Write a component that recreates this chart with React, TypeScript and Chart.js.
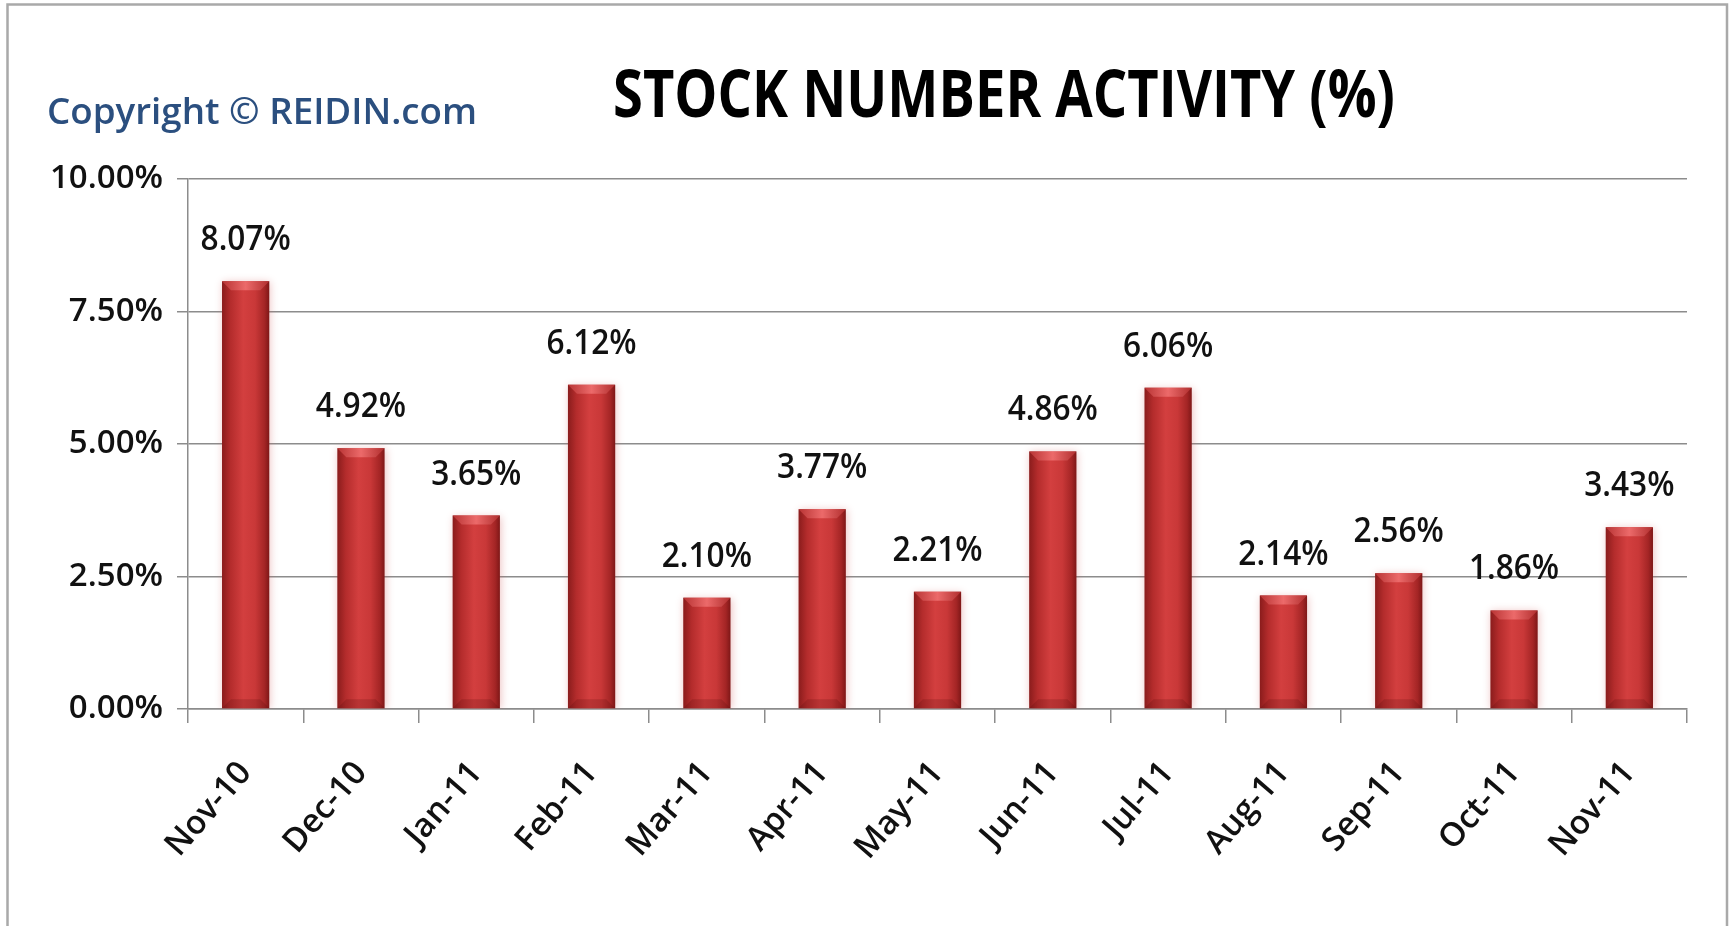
import React, { useEffect, useRef } from "react";
import { Chart, registerables } from "chart.js";

Chart.register(...registerables);

const categories = [
  "Nov-10", "Dec-10", "Jan-11", "Feb-11", "Mar-11", "Apr-11", "May-11",
  "Jun-11", "Jul-11", "Aug-11", "Sep-11", "Oct-11", "Nov-11",
];
const activityValues = [8.07, 4.92, 3.65, 6.12, 2.1, 3.77, 2.21, 4.86, 6.06, 2.14, 2.56, 1.86, 3.43];
const yTickValues = [0, 2.5, 5, 7.5, 10];
const titleText = "STOCK NUMBER ACTIVITY (%)";
const copyrightText = "Copyright © REIDIN.com";

const W = 1733;
const H = 926;
const BAR_FRACTION = 0.41;
const FONT = "'Open Sans', 'DejaVu Sans', sans-serif";

function drawFitted(
  ctx: CanvasRenderingContext2D,
  text: string,
  font: string,
  x: number,
  y: number,
  targetWidth: number,
  color: string
) {
  ctx.save();
  ctx.font = font;
  ctx.fillStyle = color;
  ctx.textAlign = "left";
  ctx.textBaseline = "alphabetic";
  const w = ctx.measureText(text).width;
  ctx.translate(x, y);
  ctx.scale(targetWidth / w, 1);
  ctx.fillText(text, 0, 0);
  ctx.restore();
}

const framePlugin = {
  id: "frame",
  beforeDraw(chart: any) {
    const ctx = chart.ctx as CanvasRenderingContext2D;
    ctx.save();
    ctx.fillStyle = "#ffffff";
    ctx.fillRect(0, 0, W, H);
    ctx.strokeStyle = "#a9a9a9";
    ctx.lineWidth = 2.5;
    ctx.beginPath();
    ctx.moveTo(7.5, H + 5);
    ctx.lineTo(7.5, 4.5);
    ctx.lineTo(1727, 4.5);
    ctx.lineTo(1727, H + 5);
    ctx.stroke();
    ctx.restore();
  },
  afterDraw(chart: any) {
    const ctx = chart.ctx as CanvasRenderingContext2D;
    drawFitted(ctx, titleText, `700 67px ${FONT}`, 613, 117, 782, "#000000");
    drawFitted(ctx, copyrightText, `600 36px ${FONT}`, 47, 124, 430, "#2b4f7f");
  },
};

const barDecoPlugin = {
  id: "barDeco",
  beforeDatasetsDraw(chart: any) {
    const ctx = chart.ctx as CanvasRenderingContext2D;
    ctx.save();
    ctx.shadowColor = "rgba(205, 80, 80, 0.35)";
    ctx.shadowBlur = 8;
    ctx.shadowOffsetX = 1;
    ctx.shadowOffsetY = 1;
  },
  afterDatasetsDraw(chart: any) {
    const ctx = chart.ctx as CanvasRenderingContext2D;
    ctx.restore();
    const meta = chart.getDatasetMeta(0);
    meta.data.forEach((el: any, i: number) => {
      const { x, y, base, width } = el.getProps(["x", "y", "base", "width"], true);
      const l = x - width / 2;
      const r = x + width / 2;
      const b = 9;
      // top bevel
      const tg = ctx.createLinearGradient(l, 0, r, 0);
      tg.addColorStop(0, "#b83434");
      tg.addColorStop(0.5, "#ec6a6a");
      tg.addColorStop(1, "#b02e2e");
      ctx.save();
      ctx.fillStyle = tg;
      ctx.beginPath();
      ctx.moveTo(l, y);
      ctx.lineTo(r, y);
      ctx.lineTo(r - b, y + b);
      ctx.lineTo(l + b, y + b);
      ctx.closePath();
      ctx.fill();
      // bottom bevel
      ctx.fillStyle = "rgba(80, 10, 10, 0.2)";
      ctx.beginPath();
      ctx.moveTo(l, base);
      ctx.lineTo(r, base);
      ctx.lineTo(r - b, base - b);
      ctx.lineTo(l + b, base - b);
      ctx.closePath();
      ctx.fill();
      ctx.restore();
      // value label
      const label = activityValues[i].toFixed(2) + "%";
      ctx.save();
      ctx.font = `600 34px ${FONT}`;
      ctx.fillStyle = "#111111";
      ctx.textAlign = "center";
      ctx.textBaseline = "alphabetic";
      ctx.translate(x, y - 31);
      ctx.scale(0.93, 1);
      ctx.fillText(label, 0, 0);
      ctx.restore();
    });
  },
};

export default function App() {
  const canvasRef = useRef<HTMLCanvasElement | null>(null);

  useEffect(() => {
    if (!canvasRef.current) return;
    const chart = new Chart(canvasRef.current, {
      type: "bar",
      data: {
        labels: categories,
        datasets: [
          {
            label: "Stock number activity",
            data: activityValues,
            categoryPercentage: 1,
            barPercentage: BAR_FRACTION,
            borderWidth: 0,
            backgroundColor: (c: any) => {
              const ch = c.chart;
              const xs = ch.scales?.x;
              if (!ch.chartArea || !xs) return "#c33333";
              const cx = xs.getPixelForValue(c.dataIndex);
              const w = (xs.width / categories.length) * BAR_FRACTION;
              const g = ch.ctx.createLinearGradient(cx - w / 2, 0, cx + w / 2, 0);
              g.addColorStop(0, "#8a1c1c");
              g.addColorStop(0.18, "#b42c2c");
              g.addColorStop(0.45, "#d33f3f");
              g.addColorStop(0.7, "#c93838");
              g.addColorStop(0.9, "#a42525");
              g.addColorStop(1, "#7e1717");
              return g;
            },
          },
        ],
      },
      options: {
        responsive: false,
        animation: false,
        events: [],
        layout: { padding: { left: 0, top: 179, right: 46, bottom: 0 } },
        plugins: {
          legend: { display: false },
          title: { display: false },
          tooltip: { enabled: false },
        },
        scales: {
          x: {
            type: "category",
            offset: true,
            grid: {
              display: true,
              offset: true,
              drawOnChartArea: false,
              drawTicks: true,
              tickLength: 14,
              color: "#8c8c8c",
              lineWidth: 1.5,
            },
            border: { display: true, color: "#8c8c8c", width: 1.5 },
            ticks: {
              autoSkip: false,
              minRotation: 49,
              maxRotation: 49,
              padding: 31,
              color: "#111111",
              font: { family: FONT, size: 33, weight: "600" },
            },
            afterFit: (scale: any) => {
              scale.height = H - 709;
            },
          },
          y: {
            type: "linear",
            min: 0,
            max: 10,
            afterBuildTicks: (scale: any) => {
              scale.ticks = yTickValues.map((v) => ({ value: v }));
            },
            grid: {
              color: "#8c8c8c",
              lineWidth: 1.5,
              tickLength: 11,
              drawTicks: true,
            },
            border: { display: true, color: "#8c8c8c", width: 1.5 },
            ticks: {
              padding: 14,
              color: "#111111",
              font: { family: FONT, size: 33, weight: "600" },
              callback: (v: any) => Number(v).toFixed(2) + "%",
            },
            afterFit: (scale: any) => {
              scale.width = 188;
            },
          },
        },
      },
      plugins: [framePlugin, barDecoPlugin],
    });
    return () => chart.destroy();
  }, []);

  return (
    <div style={{ position: "absolute", left: 0, top: 0, width: W, height: H, background: "#fff" }}>
      <canvas ref={canvasRef} width={W} height={H} style={{ display: "block" }} />
    </div>
  );
}
